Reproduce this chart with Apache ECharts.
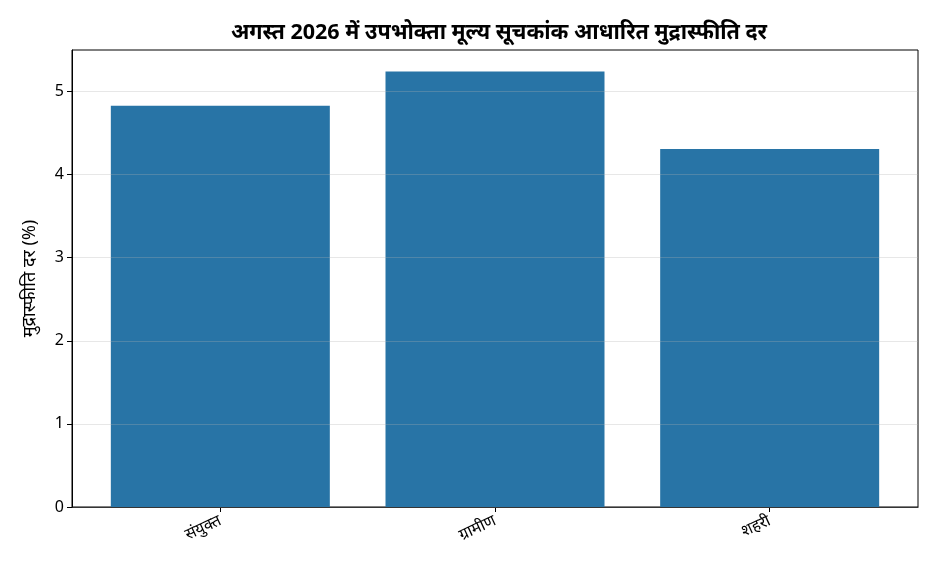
<!DOCTYPE html>
<html>
<head>
<meta charset="utf-8">
<script src="https://cdn.jsdelivr.net/npm/echarts@6/dist/echarts.min.js"></script>
<style>
html, body { margin: 0; padding: 0; background: #fff; }
#chart { width: 936px; height: 572px; }
</style>
</head>
<body>
<div id="chart"></div>
<script>
// श्रेणियाँ और मान
var categories = ['संयुक्त', 'ग्रामीण', 'शहरी'];
var rates = [4.83, 5.24, 4.31];
var yTicks = [0, 1, 2, 3, 4, 5];

var FONT = "'Noto Sans', 'Noto Sans Devanagari', 'DejaVu Sans', sans-serif";

var myChart = echarts.init(document.getElementById('chart'));

var barData = [];
for (var i = 0; i < rates.length; i++) {
	barData.push([i, rates[i]]);
}

var option = {
	animation: false,
	textStyle: { fontFamily: FONT },
	title: {
		text: 'अगस्त 2026 में उपभोक्ता मूल्य सूचकांक आधारित मुद्रास्फीति दर',
		left: 494,
		textAlign: 'center',
		top: 17,
		textStyle: { fontFamily: FONT, fontSize: 21.5, fontWeight: 'bold', color: '#000' }
	},
	grid: {
		left: 72, right: 18, top: 50, bottom: 65,
		show: true, borderColor: '#000', borderWidth: 1,
		containLabel: false
	},
	xAxis: {
		type: 'value',
		min: -0.54,
		max: 2.54,
		axisLine: { show: true, onZero: false, lineStyle: { color: '#000' } },
		axisTick: { show: true, customValues: [0, 1, 2], length: 5, lineStyle: { color: '#000' } },
		axisLabel: {
			customValues: [0, 1, 2],
			rotate: 25,
			margin: 13,
			fontSize: 16,
			color: '#000',
			fontFamily: FONT,
			formatter: function (v) { return categories[Math.round(v)]; }
		},
		splitLine: { show: false }
	},
	yAxis: {
		type: 'value',
		min: 0,
		max: 5.5,
		z: 5,
		name: 'मुद्रास्फीति दर (%)',
		nameLocation: 'middle',
		nameGap: 33,
		nameTextStyle: { fontSize: 18, color: '#000', fontFamily: FONT },
		axisLine: { show: true, onZero: false, lineStyle: { color: '#000' } },
		axisTick: { show: true, customValues: yTicks, length: 5, lineStyle: { color: '#000' } },
		axisLabel: { customValues: yTicks, fontSize: 16, color: '#000', margin: 8, fontFamily: FONT },
		splitLine: { show: true, lineStyle: { color: 'rgba(176,176,176,0.3)', width: 1 } }
	},
	series: [{
		type: 'bar',
		data: barData,
		barWidth: 219,
		itemStyle: { color: '#2874a6' }
	}]
};

myChart.setOption(option);
</script>
</body>
</html>
